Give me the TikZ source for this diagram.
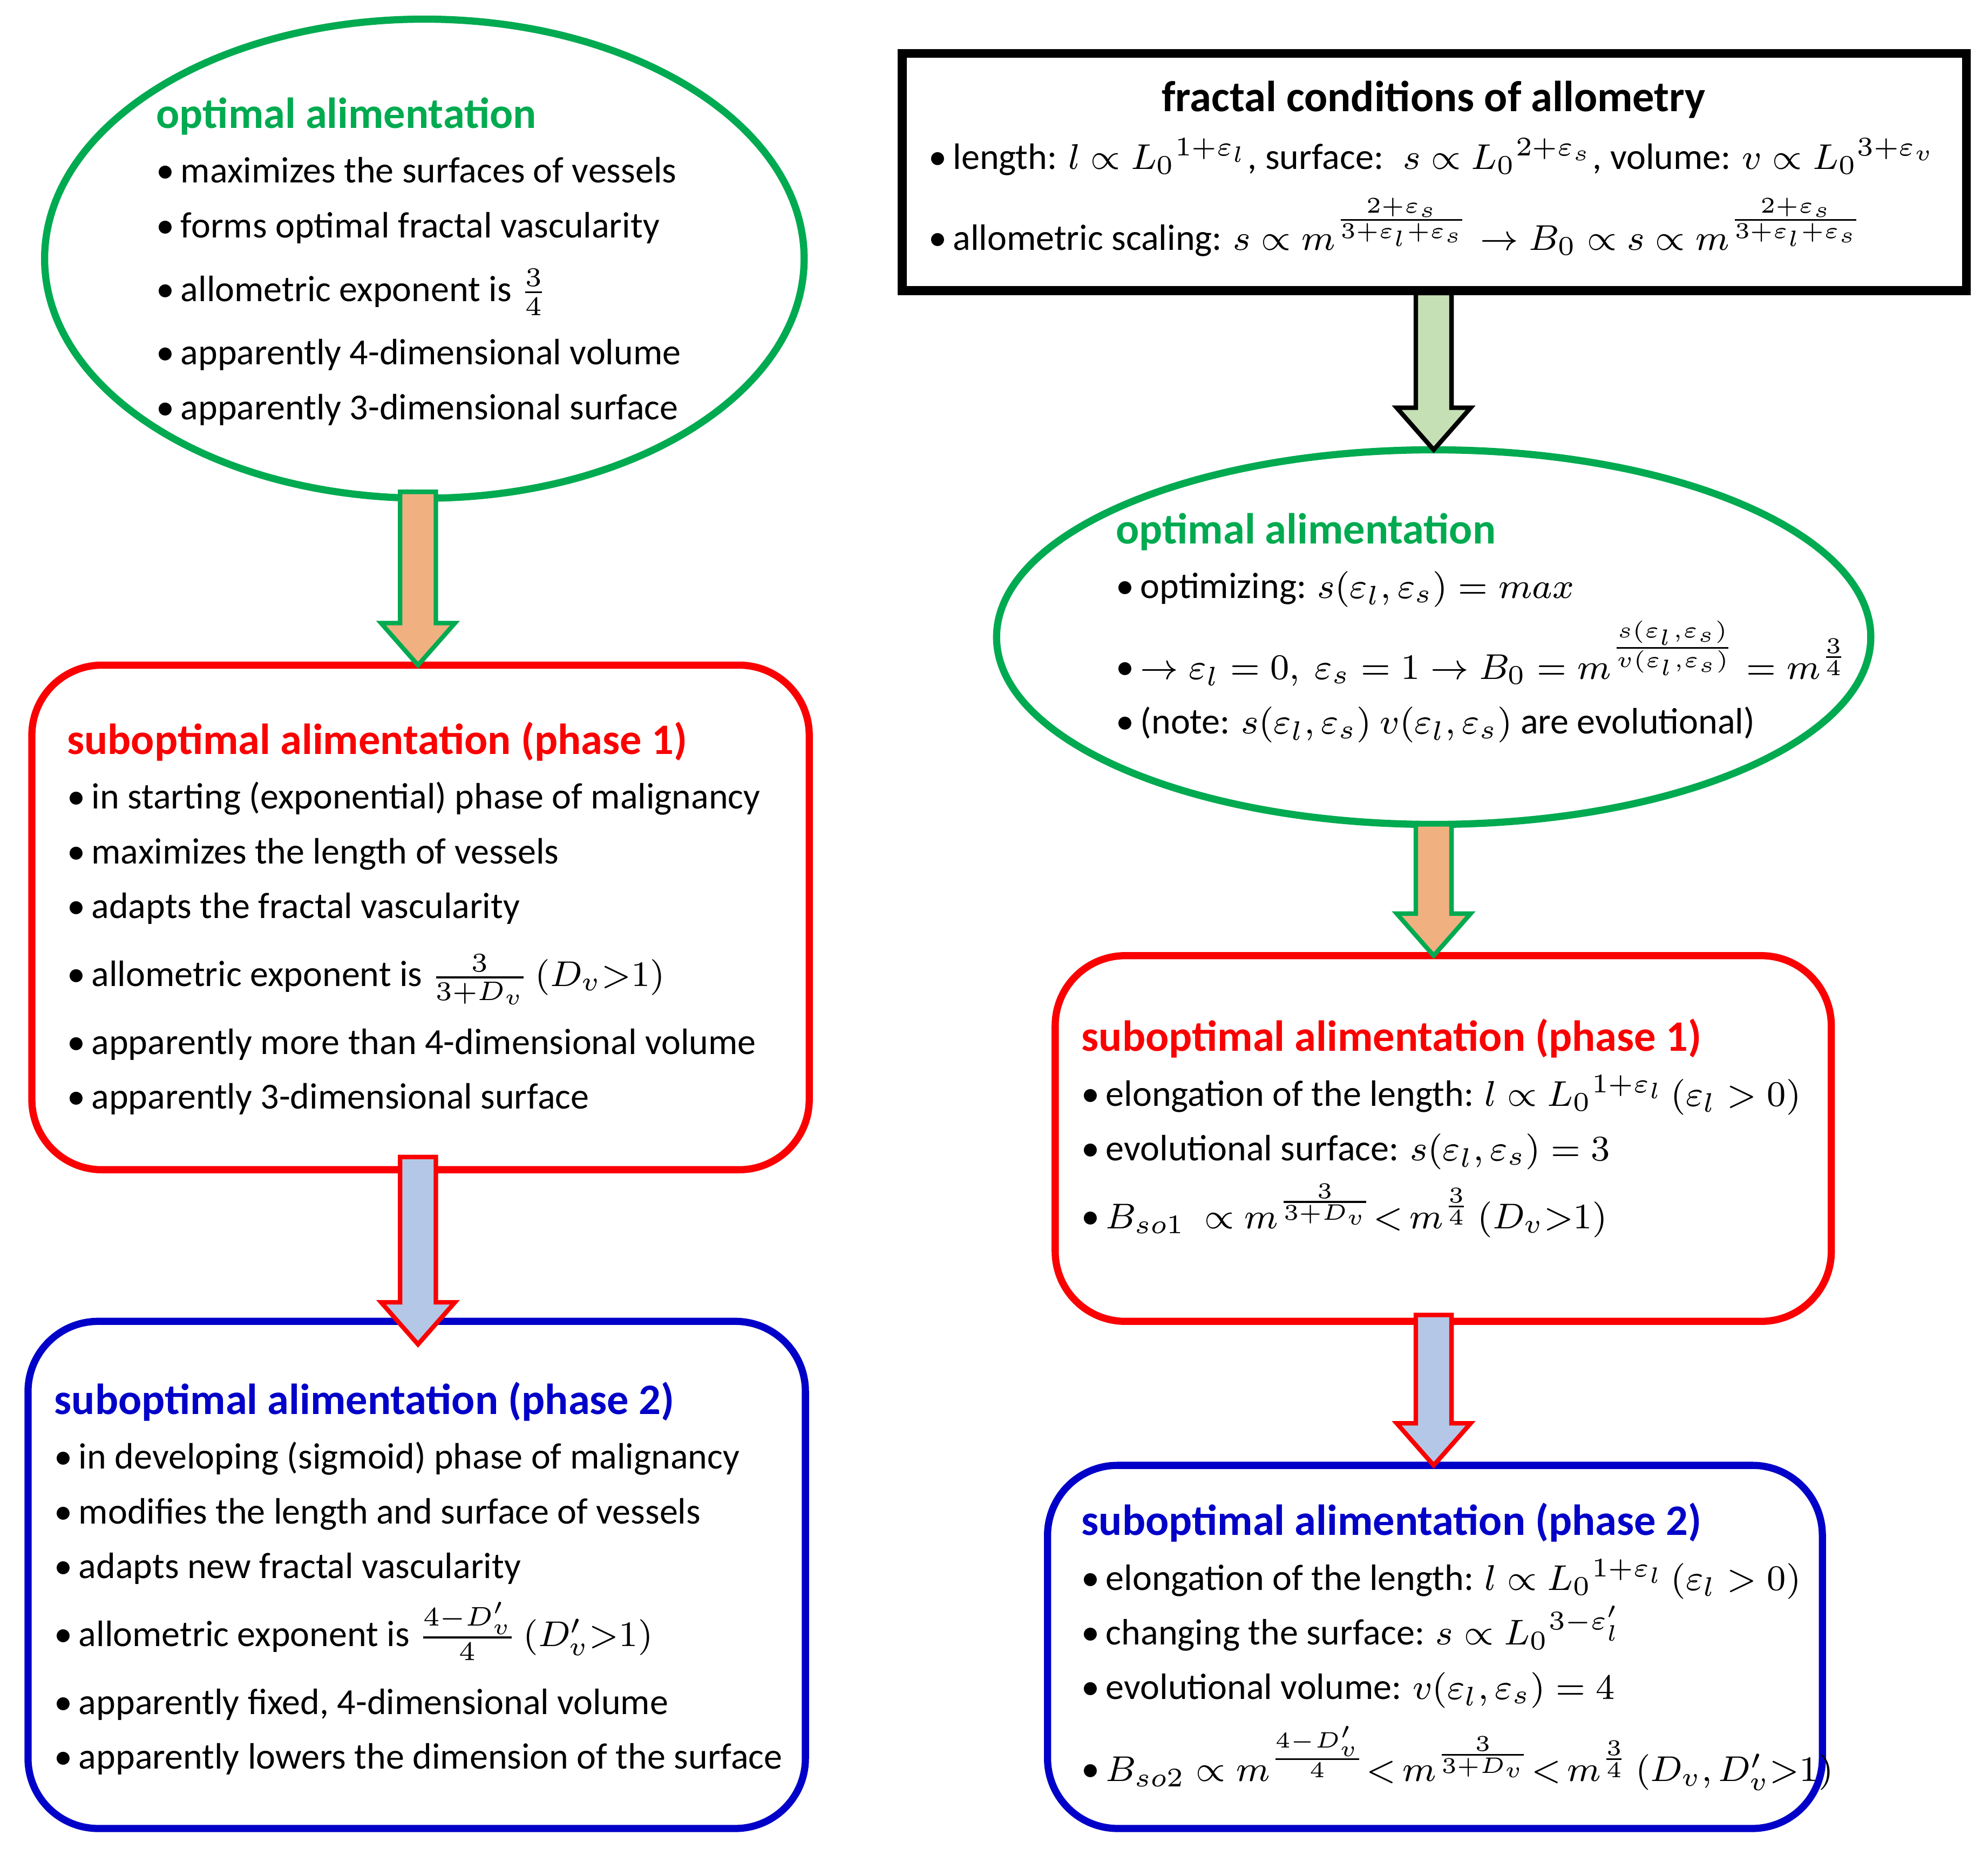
\documentclass[tikz,border=0pt]{standalone}
\usepackage{fontspec}
\setmainfont{Carlito}
\usetikzlibrary{shapes.geometric,calc}
\definecolor{ogreen}{RGB}{0,170,80}
\definecolor{ored}{RGB}{250,0,0}
\definecolor{oblue}{RGB}{0,0,200}
\definecolor{orangefill}{RGB}{240,176,128}
\definecolor{bluefill}{RGB}{180,199,231}
\definecolor{greenfill}{RGB}{197,224,180}
\newcommand{\itm}{\textbullet\,}
\newcommand{\ttl}{\bfseries\fontsize{9.7}{12}\selectfont}
% block arrow from one anchor to another
\newcommand{\fatarrow}[3]{\draw[#3] ($(#1)+(-0.14,0)$) -- ($(#2)+(-0.14,0.33)$)
  -- ($(#2)+(-0.29,0.33)$) -- (#2) -- ($(#2)+(0.29,0.33)$)
  -- ($(#2)+(0.14,0.33)$) -- ($(#1)+(0.14,0)$) -- cycle;}
\begin{document}
\begin{tikzpicture}[
    oval/.style={ellipse, draw=ogreen, line width=1.6pt},
    redbox/.style={draw=ored, line width=1.6pt, rounded corners=0.55cm},
    bluebox/.style={draw=oblue, line width=1.6pt, rounded corners=0.55cm},
    txt/.style={anchor=north west, align=left, inner sep=0pt, font=\fontsize{8.2}{12.2}\selectfont},
    arr/.style={line width=1pt}]

    \useasboundingbox (0,0) rectangle (15.6,-14.51);

    % left column
    \node[oval, minimum width=5.96cm, minimum height=3.76cm] (e1) at (3.33,-2.03) {};
    \coordinate (a1) at (3.28,-3.86);
    \node[txt] (t1) at (1.22,-0.76) {{\ttl\color{ogreen}optimal alimentation}\\
      \itm maximizes the surfaces of vessels\\
      \itm forms optimal fractal vascularity\\[2pt]
      \itm allometric exponent is $\frac{3}{4}$\\[2pt]
      \itm apparently 4-dimensional volume\\
      \itm apparently 3-dimensional surface};

    \draw[redbox] (0.25,-5.22) rectangle (6.35,-9.18);
    \coordinate (b1) at (3.28,-5.22);
    \coordinate (b1s) at (3.28,-9.08);
    \node[txt] (t2) at (0.52,-5.66) {{\ttl\color{ored}suboptimal alimentation (phase 1)}\\
      \itm in starting (exponential) phase of malignancy\\
      \itm maximizes the length of vessels\\
      \itm adapts the fractal vascularity\\[3pt]
      \itm allometric exponent is $\frac{3}{3+D_v}\,(D_v{>}1)$\\[3pt]
      \itm apparently more than 4-dimensional volume\\
      \itm apparently 3-dimensional surface};

    \draw[bluebox] (0.22,-10.37) rectangle (6.32,-14.35);
    \coordinate (b2) at (3.28,-10.55);
    \node[txt] (t3) at (0.42,-10.84) {{\ttl\color{oblue}suboptimal alimentation (phase 2)}\\
      \itm in developing (sigmoid) phase of malignancy\\
      \itm modifies the length and surface of vessels\\
      \itm adapts new fractal vascularity\\[3pt]
      \itm allometric exponent is $\frac{4-D_v'}{4}\,(D_v'{>}1)$\\[3pt]
      \itm apparently fixed, 4-dimensional volume\\
      \itm apparently lowers the dimension of the surface};

    % right column
    \draw[line width=2pt] (7.08,-0.42) rectangle (15.43,-2.28);
    \coordinate (k) at (11.25,-2.3);
    \coordinate (e2n) at (11.25,-3.53);
    \coordinate (e2s) at (11.25,-6.47);
    \node[font=\ttl] (t4) at (11.25,-0.78) {fractal conditions of allometry};
    \node[txt] (t5) at (7.28,-1.08) {\itm length: $l\propto {L_0}^{1+\varepsilon_l}$, surface: \ $s\propto {L_0}^{2+\varepsilon_s}$, volume: $v\propto {L_0}^{3+\varepsilon_v}$\\[4pt]
      \itm allometric scaling: $s\propto m^{\frac{2+\varepsilon_s}{3+\varepsilon_l+\varepsilon_s}}\rightarrow B_0\propto s\propto m^{\frac{2+\varepsilon_s}{3+\varepsilon_l+\varepsilon_s}}$};

    \node[oval, minimum width=6.86cm, minimum height=2.94cm] (e2) at (11.25,-5.0) {};
    \node[txt] (t6) at (8.75,-4.02) {{\ttl\color{ogreen}optimal alimentation}\\
      \itm optimizing: $s(\varepsilon_l,\varepsilon_s)=max$\\[2pt]
      \itm $\rightarrow\varepsilon_l=0,\ \varepsilon_s=1\rightarrow B_0=m^{\frac{s(\varepsilon_l,\varepsilon_s)}{v(\varepsilon_l,\varepsilon_s)}}=m^{\frac{3}{4}}$\\
      \itm (note: $s(\varepsilon_l,\varepsilon_s)\ v(\varepsilon_l,\varepsilon_s)$ are evolutional)};

    \draw[redbox] (8.28,-7.5) rectangle (14.37,-10.37);
    \coordinate (b3) at (11.25,-7.5);
    \coordinate (b3s) at (11.25,-10.32);
    \node[txt] (t7) at (8.48,-7.99) {{\ttl\color{ored}suboptimal alimentation (phase 1)}\\
      \itm elongation of the length: $l\propto {L_0}^{1+\varepsilon_l}\,(\varepsilon_l>0)$\\
      \itm evolutional surface: $s(\varepsilon_l,\varepsilon_s)=3$\\[3pt]
      \itm $B_{so1}\ \propto m^{\frac{3}{3+D_v}}{<}\,m^{\frac{3}{4}}\,(D_v{>}1)$};

    \draw[bluebox] (8.22,-11.5) rectangle (14.3,-14.35);
    \coordinate (b4) at (11.25,-11.5);
    \node[txt] (t8) at (8.48,-11.79) {{\ttl\color{oblue}suboptimal alimentation (phase 2)}\\
      \itm elongation of the length: $l\propto {L_0}^{1+\varepsilon_l}\,(\varepsilon_l>0)$\\
      \itm changing the surface: $s\propto {L_0}^{3-\varepsilon_l'}$\\
      \itm evolutional volume: $v(\varepsilon_l,\varepsilon_s)=4$\\[3pt]
      \itm $B_{so2}\propto m^{\frac{4-D_v'}{4}}{<}\,m^{\frac{3}{3+D_v}}{<}\,m^{\frac{3}{4}}\,(D_v,D_v'{>}1)$};

    % block arrows
    \fatarrow{a1}{b1}{arr, fill=orangefill, draw=ogreen}
    \fatarrow{b1s}{b2}{arr, fill=bluefill, draw=ored}
    \fatarrow{k}{e2n}{arr, fill=greenfill, draw=black}
    \fatarrow{e2s}{b3}{arr, fill=orangefill, draw=ogreen}
    \fatarrow{b3s}{b4}{arr, fill=bluefill, draw=ored}
\end{tikzpicture}
\end{document}
